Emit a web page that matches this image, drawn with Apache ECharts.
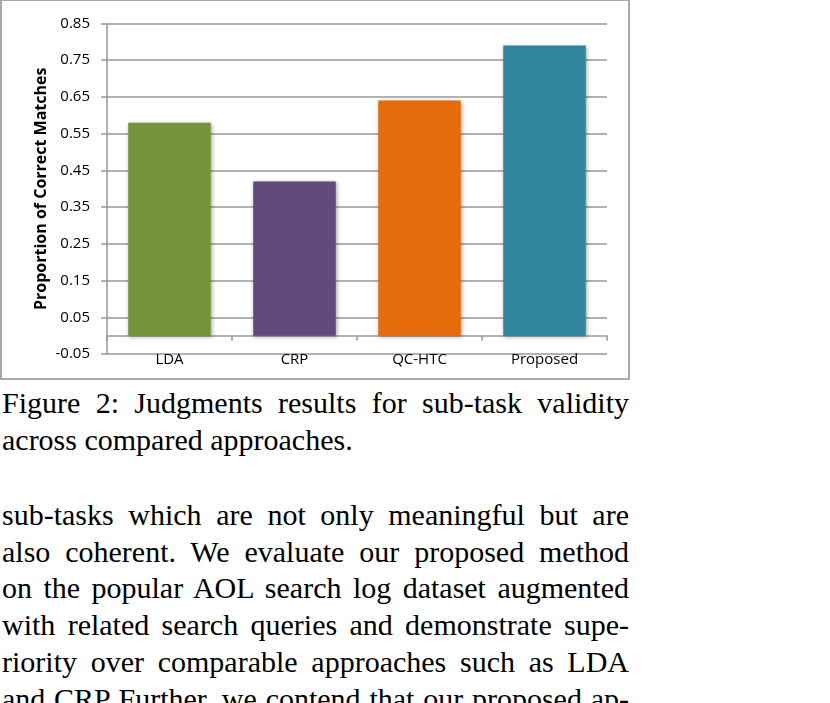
<!DOCTYPE html>
<html>
<head>
<meta charset="utf-8">
<script src="https://cdn.jsdelivr.net/npm/echarts@6/dist/echarts.min.js"></script>
<style>
  html, body { margin: 0; padding: 0; background: #fff; width: 830px; height: 703px; overflow: hidden; position: relative; }
  #chart { position: absolute; left: 0; top: 0; width: 630px; height: 380px; box-sizing: border-box; border: 2px solid #a9a9a9; border-top-width: 1.5px; }
  .txt { position: absolute; left: 2px; width: 627px; font-family: "Liberation Serif", "Times New Roman", serif; font-size: 30px; line-height: 36.7px; color: #000; }
  .txt div { white-space: nowrap; }
  .txt div.j { text-align: justify; text-align-last: justify; white-space: normal; }
</style>
</head>
<body>
<div id="chart"></div>
<div class="txt" id="caption" style="top:385px;"></div>
<div class="txt" id="body" style="top:497px;"></div>
<script>
const categories = ['LDA', 'CRP', 'QC-HTC', 'Proposed'];
const values = [0.58, 0.42, 0.64, 0.79];
const barColors = ['#77933C', '#604A7B', '#E46C0A', '#31859C'];
const tickLabels = ['-0.05', '0.05', '0.15', '0.25', '0.35', '0.45', '0.55', '0.65', '0.75', '0.85'];
const yTitle = 'Proportion of Correct Matches';
const captionLines = ['Figure 2:  Judgments results for sub-task validity', 'across compared approaches.'];
const bodyLines = [
  'sub-tasks which are not only meaningful but are',
  'also coherent.  We evaluate our proposed method',
  'on the popular AOL search log dataset augmented',
  'with related search queries and demonstrate supe-',
  'riority over comparable approaches such as LDA',
  'and CRP Further, we contend that our proposed ap-'
];

function fill(id, lines, justifiedCount) {
  const el = document.getElementById(id);
  lines.forEach((t, i) => {
    const d = document.createElement('div');
    if (i < justifiedCount) d.className = 'j';
    d.textContent = t;
    el.appendChild(d);
  });
}
fill('caption', captionLines, 1);
fill('body', bodyLines, bodyLines.length);

const gridColor = '#999999';
const chart = echarts.init(document.getElementById('chart'), null, { renderer: 'canvas' });
chart.setOption({
  animation: false,
  grid: { left: 105, right: 21, top: 22.5, bottom: 24, containLabel: false, outerBoundsMode: 'none' },
  xAxis: {
    type: 'category',
    data: categories,
    axisLine: { onZero: true, onZeroAxisIndex: 0, lineStyle: { color: gridColor, width: 1.5 } },
    axisTick: { show: true, length: 5, lineStyle: { color: gridColor, width: 1.5 } },
    axisLabel: { color: '#000', fontFamily: 'Open Sans', fontSize: 15, margin: -2 },
    splitLine: { show: false }
  },
  yAxis: [
    {
      type: 'value', min: -0.05, max: 0.85,
      axisLine: { show: false }, axisTick: { show: false }, axisLabel: { show: false }, splitLine: { show: false }
    },
    {
      type: 'value', position: 'left', min: 0, max: 0.9, interval: 0.1,
      name: yTitle, nameLocation: 'middle', nameGap: 58, nameMoveOverlap: false,
      nameTextStyle: { color: '#000', fontFamily: 'Open Sans', fontWeight: 'bold', fontSize: 16 },
      axisLine: { show: true, lineStyle: { color: gridColor, width: 1.5 } },
      axisTick: { show: true, length: 6, lineStyle: { color: gridColor, width: 1.5 } },
      axisLabel: {
        color: '#000', fontFamily: 'Open Sans', fontSize: 15, margin: 17,
        formatter: v => tickLabels[Math.round(v * 10)]
      },
      splitLine: { show: true, lineStyle: { color: gridColor, width: 1.5 } }
    }
  ],
  series: [{
    type: 'bar',
    yAxisIndex: 0,
    barWidth: '66%',
    data: values.map((v, i) => ({
      value: v,
      itemStyle: {
        color: barColors[i],
        shadowBlur: 4, shadowColor: 'rgba(0,0,0,0.35)', shadowOffsetX: 1, shadowOffsetY: 1
      }
    }))
  }]
});
</script>
</body>
</html>
